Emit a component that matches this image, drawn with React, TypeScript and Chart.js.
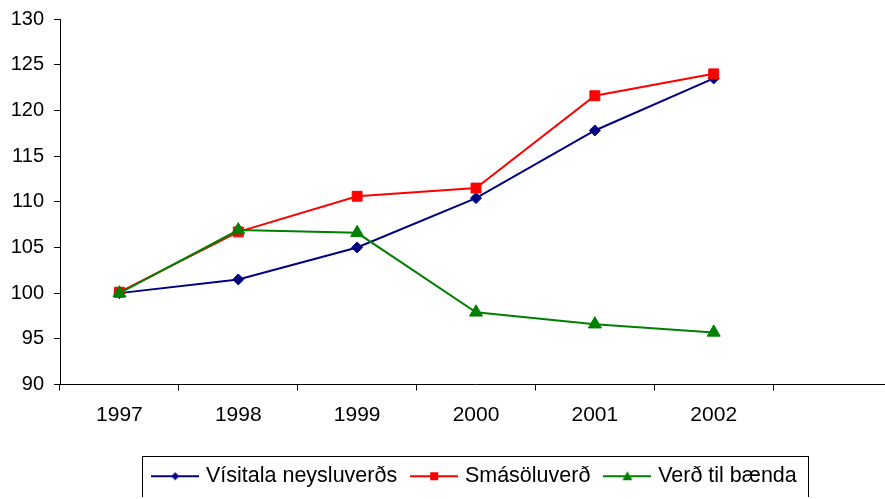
import React, { useEffect, useRef } from 'react';
import { Chart, registerables } from 'chart.js';

Chart.register(...registerables);

const categories = ['1997', '1998', '1999', '2000', '2001', '2002', ''];
const visitala = [100, 101.5, 105.0, 110.4, 117.8, 123.5, null];
const smasoluverd = [100.1, 106.7, 110.6, 111.5, 121.6, 124.0, null];
const verdTilBaenda = [100, 106.9, 106.6, 97.9, 96.6, 95.7, null];
const seriesNames = ['Vísitala neysluverðs', 'Smásöluverð', 'Verð til bænda'];
const seriesColors = ['#000080', '#FF0000', '#008000'];
const yMin = 90;
const yMax = 130;
const yStep = 5;

const FONT = "'Liberation Sans', Arial, sans-serif";

function legendIcon(color: string, kind: string): HTMLCanvasElement {
  const c = document.createElement('canvas');
  c.width = 48;
  c.height = 14;
  const ctx = c.getContext('2d')!;
  ctx.strokeStyle = color;
  ctx.lineWidth = 2;
  ctx.beginPath();
  ctx.moveTo(0, 7);
  ctx.lineTo(48, 7);
  ctx.stroke();
  ctx.fillStyle = color;
  ctx.beginPath();
  if (kind === 'diamond') {
    ctx.moveTo(24, 3);
    ctx.lineTo(28, 7);
    ctx.lineTo(24, 11);
    ctx.lineTo(20, 7);
    ctx.closePath();
  } else if (kind === 'square') {
    ctx.rect(20, 3, 8, 8);
  } else {
    ctx.moveTo(24, 2);
    ctx.lineTo(29, 11);
    ctx.lineTo(19, 11);
    ctx.closePath();
  }
  ctx.fill();
  return c;
}

const legendBorder = {
  id: 'legendBorder',
  afterDraw(chart: any) {
    const lg = chart.legend;
    if (!lg || !lg.legendHitBoxes || !lg.legendHitBoxes.length) return;
    const hb = lg.legendHitBoxes;
    const left = Math.min(...hb.map((h: any) => h.left)) - 13;
    const right = Math.max(...hb.map((h: any) => h.left + h.width)) + 11;
    const cy = hb[0].top + hb[0].height / 2;
    const top = cy - 20.5;
    const bottom = cy + 20.5;
    const ctx = chart.ctx;
    ctx.save();
    ctx.strokeStyle = '#000';
    ctx.lineWidth = 1;
    ctx.strokeRect(Math.round(left) + 0.5, Math.round(top) + 0.5, Math.round(right - left), Math.round(bottom - top));
    ctx.restore();
  },
};

export default function App() {
  const ref = useRef<HTMLCanvasElement>(null);
  useEffect(() => {
    const icons = [
      legendIcon(seriesColors[0], 'diamond'),
      legendIcon(seriesColors[1], 'square'),
      legendIcon(seriesColors[2], 'triangle'),
    ];
    const chart = new Chart(ref.current!, {
      type: 'line',
      data: {
        labels: categories,
        datasets: [
          {
            label: seriesNames[0],
            data: visitala,
            borderColor: seriesColors[0],
            backgroundColor: seriesColors[0],
            borderWidth: 2,
            pointStyle: 'rectRot',
            pointRadius: 5.5,
            pointBorderWidth: 1,
            order: 3,
            tension: 0,
          },
          {
            label: seriesNames[1],
            data: smasoluverd,
            borderColor: seriesColors[1],
            backgroundColor: seriesColors[1],
            borderWidth: 2,
            pointStyle: 'rect',
            pointRadius: 7,
            pointBorderWidth: 1,
            order: 2,
            tension: 0,
          },
          {
            label: seriesNames[2],
            data: verdTilBaenda,
            borderColor: seriesColors[2],
            backgroundColor: seriesColors[2],
            borderWidth: 2,
            pointStyle: 'triangle',
            pointRadius: 7.5,
            pointBorderWidth: 1,
            order: 1,
            tension: 0,
          },
        ],
      },
      options: {
        animation: false,
        responsive: false,
        devicePixelRatio: 1,
        layout: { padding: { top: 19, left: 0, right: 0, bottom: 0 } },
        plugins: {
          tooltip: { enabled: false },
          legend: {
            position: 'bottom',
            labels: {
              usePointStyle: true,
              pointStyleWidth: 40,
              padding: 17,
              color: '#000',
              font: { family: FONT, size: 21.5 },
              generateLabels: () =>
                seriesNames.map((n, i) => ({
                  text: n,
                  pointStyle: icons[i] as any,
                  fillStyle: seriesColors[i],
                  strokeStyle: seriesColors[i],
                  lineWidth: 0,
                  hidden: false,
                  datasetIndex: i,
                  fontColor: '#000',
                })),
            },
          },
        },
        scales: {
          x: {
            type: 'category',
            offset: true,
            grid: { offset: true, drawOnChartArea: false, drawTicks: true, tickLength: 6, color: '#000' },
            border: { color: '#000', width: 1 },
            ticks: { color: '#000', font: { family: FONT, size: 21 }, padding: 12, maxRotation: 0, autoSkip: false },
            afterFit: (s: any) => {
              s.height = 64;
            },
          },
          y: {
            min: yMin,
            max: yMax,
            ticks: { stepSize: yStep, color: '#000', font: { family: FONT, size: 20 }, padding: 10 },
            grid: { drawOnChartArea: false, drawTicks: true, tickLength: 6, color: '#000' },
            border: { color: '#000', width: 1 },
            afterFit: (s: any) => {
              s.width = 60;
              s.paddingTop = 0;
              s.paddingBottom = 0;
            },
          },
          y2: {
            position: 'right',
            display: true,
            grid: { display: false },
            ticks: { display: false },
            border: { display: false },
            afterFit: (s: any) => {
              s.width = 60;
              s.paddingTop = 0;
              s.paddingBottom = 0;
            },
          },
        },
      },
      plugins: [legendBorder],
    } as any);
    return () => chart.destroy();
  }, []);
  return (
    <div style={{ position: 'fixed', left: 0, top: 0, width: 885, height: 499, overflow: 'hidden', background: '#fff' }}>
      <canvas ref={ref} width={952} height={497} style={{ display: 'block' }} />
    </div>
  );
}
